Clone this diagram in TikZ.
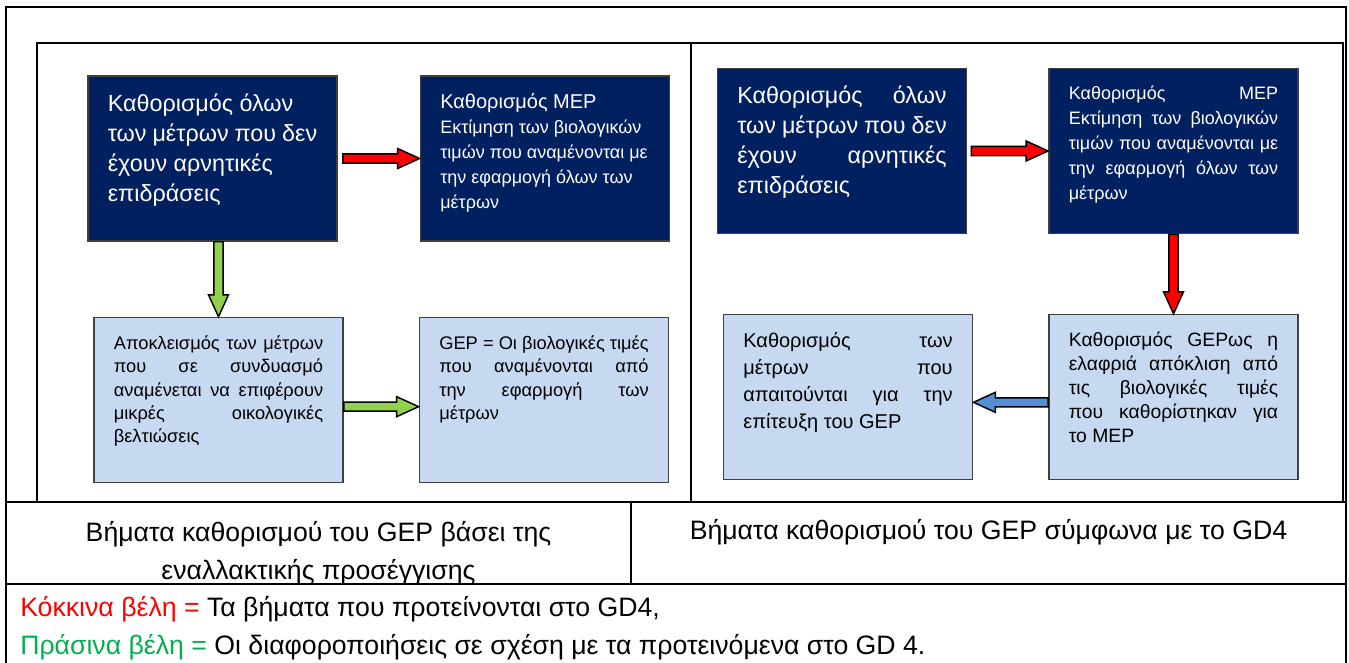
\documentclass[tikz,border=0pt]{standalone}
\usepackage{fontspec}
\setmainfont{Liberation Sans}
\usetikzlibrary{calc}
\hyphenpenalty=10000
\exhyphenpenalty=10000

\definecolor{navybox}{HTML}{002060}
\definecolor{palebox}{HTML}{C6D9F1}
\definecolor{boxrule}{HTML}{404040}
\definecolor{redarrow}{HTML}{FF0000}
\definecolor{greenarrow}{HTML}{92D050}
\definecolor{bluearrow}{HTML}{558ED5}
\definecolor{greentext}{HTML}{00B050}

\newcommand{\boxtext}[1]{\parbox[c][97pt][t]{157pt}{#1}}
\newcommand{\fatarrow}[3]{%
	\coordinate (fa) at ($(#2)!16.5pt!(#1)$);
	\draw [blockarrow, fill=#3] ($(#1)!3.4pt!90:(#2)$) -- ($(fa)!3.4pt!90:(#2)$) -- ($(fa)!7.5pt!90:(#2)$)
		-- (#2) -- ($(fa)!7.5pt!-90:(#2)$) -- ($(fa)!3.4pt!-90:(#2)$) -- ($(#1)!3.4pt!-90:(#2)$) -- cycle;}

\begin{document}
\begin{tikzpicture}[x=0.75pt, y=-0.75pt,
	darkbox/.style={draw=boxrule, line width=1.1pt, fill=navybox, text=white,
		inner xsep=15pt, inner ysep=9pt, minimum width=186.75pt, minimum height=123.75pt},
	lightbox/.style={darkbox, fill=palebox, text=black},
	blockarrow/.style={draw=black, line width=1.1pt, line join=miter},
	caption/.style={font=\fontsize{20}{28.5}\selectfont, anchor=base},
	keyline/.style={font=\fontsize{20}{28.5}\selectfont, anchor=base west, inner sep=0pt},
	rule/.style={line width=1.8pt}]
\useasboundingbox (0,0) rectangle (1349,663);

\draw [rule] (6,663) -- (6,7) -- (1346,7) -- (1346,663);
\draw [rule] (37,43) rectangle (1343,502);
\draw [rule] (691,43) -- (691,502);
\draw [rule] (6,502) -- (1346,502);
\draw [rule] (631,502) -- (631,584);
\draw [rule] (6,584) -- (1346,584);

\node [darkbox, font=\fontsize{17.5}{22.5}\selectfont] (A) at (212.5,158.5)
	{\boxtext{\raggedright Καθορισμός όλων\\ των μέτρων που δεν\\ έχουν αρνητικές\\ επιδράσεις}};
\node [darkbox, font=\fontsize{13.5}{18.75}\selectfont] (B) at (545,158.5)
	{\boxtext{\raggedright{\fontsize{15}{18.75}\selectfont Καθορισμός MEP}\\ Εκτίμηση των βιολογικών\\ τιμών που αναμένονται με\\ την εφαρμογή όλων των\\ μέτρων}};
\node [lightbox, font=\fontsize{13.7}{17.6}\selectfont] (C) at (218.5,400)
	{\boxtext{Αποκλεισμός των μέτρων\linebreak που σε συνδυασμό\linebreak αναμένεται να επιφέρουν\linebreak μικρές οικολογικές\linebreak βελτιώσεις}};
\node [lightbox, font=\fontsize{13.7}{17.6}\selectfont] (D) at (544,400)
	{\boxtext{GEP = Οι βιολογικές τιμές\linebreak που αναμένονται από\linebreak την εφαρμογή των\linebreak μέτρων}};

\node [darkbox, font=\fontsize{17.5}{22.5}\selectfont] (E) at (842,151)
	{\boxtext{Καθορισμός όλων\linebreak των μέτρων που δεν\linebreak έχουν αρνητικές\linebreak επιδράσεις}};
\node [darkbox, font=\fontsize{13.5}{18.75}\selectfont] (F) at (1173.5,151)
	{\boxtext{Καθορισμός MEP\linebreak Εκτίμηση των βιολογικών\linebreak τιμών που αναμένονται με\linebreak την εφαρμογή όλων των\linebreak μέτρων}};
\node [lightbox, font=\fontsize{14.5}{18}\selectfont] (G) at (1173.5,397)
	{\boxtext{Καθορισμός GEPως η\linebreak ελαφριά απόκλιση από\linebreak τις βιολογικές τιμές\linebreak που καθορίστηκαν για\linebreak το MEP}};
\node [lightbox, font=\fontsize{15}{20.25}\selectfont] (H) at (848,397)
	{\boxtext{Καθορισμός των\linebreak μέτρων που\linebreak απαιτούνται για την\linebreak επίτευξη του GEP}};

\coordinate (ab) at ([xshift=3.75pt]A.east);
\coordinate (ac) at (C.north |- A.south);
\coordinate (cd) at ([yshift=-5pt]C.east);
\coordinate (ef) at ([xshift=3pt]E.east);
\coordinate (gh) at ([yshift=-4pt]G.west);
\fatarrow{ab}{B.west}{redarrow}
\fatarrow{ac}{C.north}{greenarrow}
\fatarrow{cd}{D.west |- cd}{greenarrow}
\fatarrow{ef}{F.west}{redarrow}
\fatarrow{F.south}{G.north}{redarrow}
\fatarrow{gh}{H.east |- gh}{bluearrow}

\node [caption, align=center] (capalt) at (318.5,579)
	{Βήματα καθορισμού του GEP βάσει της\\ εναλλακτικής προσέγγισης};
\node [caption] (capgd) at (988.5,539)
	{Βήματα καθορισμού του GEP σύμφωνα με το GD4};
\node [keyline] (redkey) at (20,616)
	{\textcolor{redarrow}{Κόκκινα βέλη =} Τα βήματα που προτείνονται στο GD4,};
\node [keyline] (greenkey) at (20,654)
	{\textcolor{greentext}{Πράσινα βέλη =} Οι διαφοροποιήσεις σε σχέση με τα προτεινόμενα στο GD 4.};
\end{tikzpicture}
\end{document}
